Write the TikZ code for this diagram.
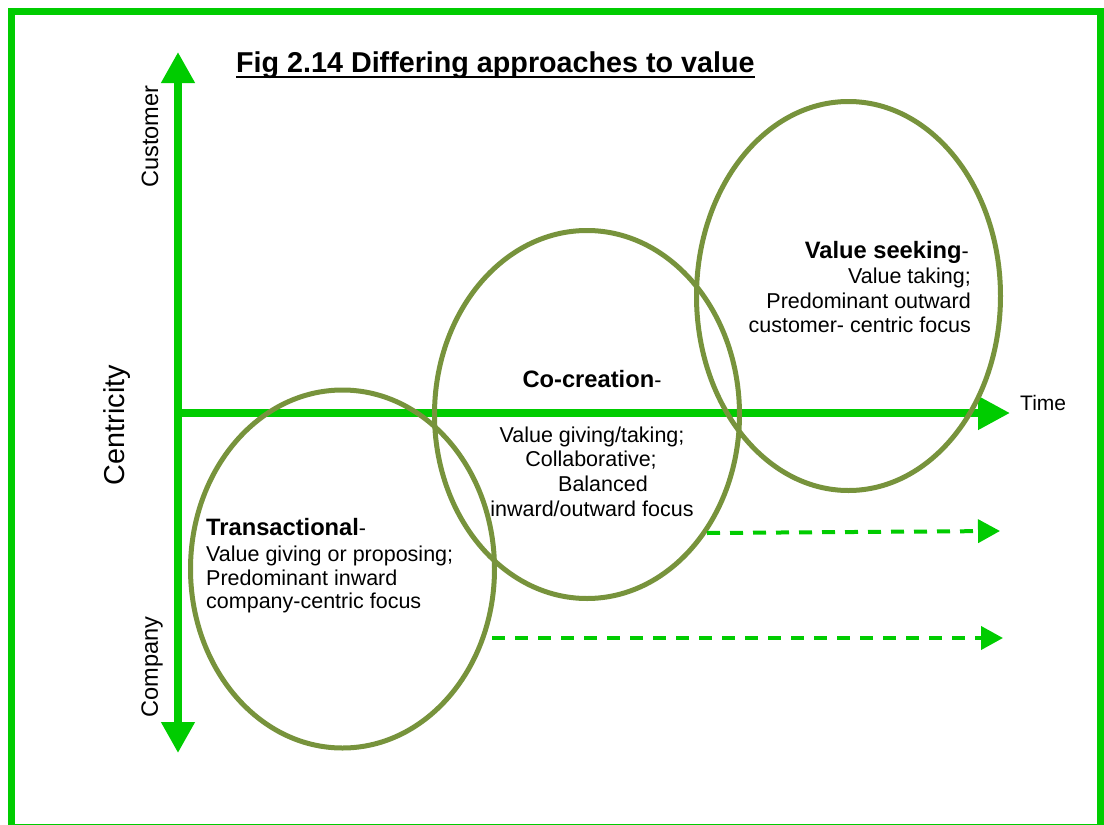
\documentclass[tikz,border=0pt]{standalone}
\usepackage{fontspec}
\setmainfont{Liberation Sans}
\usetikzlibrary{arrows.meta,shapes.geometric}
\definecolor{axgreen}{RGB}{0,204,0}
\definecolor{ringolive}{RGB}{119,147,60}
\begin{document}
\begin{tikzpicture}[x=1pt,y=-1pt,
  frame/.style={draw=axgreen,line width=7pt},
  axis/.style={draw=axgreen,line width=7.5pt},
  bigtip/.style={-{Triangle[length=31pt,width=32pt]}},
  trend/.style={draw=axgreen,line width=4pt,dash pattern=on 13pt off 10pt,
     -{Triangle[length=22pt,width=23pt]}},
  ring/.style={draw=ringolive,line width=5pt,ellipse,inner sep=0pt,outer sep=0pt},
  txt/.style={inner sep=0pt,font=\fontsize{21.5}{24}\selectfont},
  hd/.style={inner sep=0pt,font=\fontsize{23.7}{26}\selectfont\bfseries},
  ttl/.style={inner sep=0pt,font=\fontsize{28.7}{32}\selectfont\bfseries},
  axlabel/.style={inner sep=0pt,font=\fontsize{23.6}{26}\selectfont,rotate=90},
]
\useasboundingbox (0,0) rectangle (1104,825);
% outer frame
\draw[frame] (11.5,11) rectangle (1100.5,827.5);

% title
\node[ttl,anchor=base west] (title) at (236,72) {Fig 2.14 Differing approaches to value};
\draw[line width=2pt] ([yshift=-4.5pt]title.base west) -- ([yshift=-4.5pt]title.base east);

% axes
\coordinate (origin) at (178,413);
\coordinate (ytop) at (178,52);
\coordinate (ybot) at (178,753);
\coordinate (xend) at (1010,413);
\draw[axis,bigtip] (origin) -- (ytop);
\draw[axis,bigtip] (origin) -- (ybot);
\draw[axis,-{Triangle[length=32pt,width=32pt]}] ([xshift=-3.75pt]origin) -- (xend);

% axis labels
\node[axlabel] (customer) at (150,136.5) {Customer};
\node[axlabel] (company) at (152,667) {Company};
\node[inner sep=0pt,font=\fontsize{28.8}{32}\selectfont,rotate=90] (centricity) at (117,425) {Centricity};
\node[inner sep=0pt,font=\fontsize{21}{24}\selectfont,anchor=base west] (time) at (1020,410) {Time};

% ellipses
\node[ring,minimum width=304pt,minimum height=358pt] (trans) at (342.5,569) {};
\node[ring,minimum width=305pt,minimum height=368pt] (cocr) at (587,414.5) {};
\node[ring,minimum width=304pt,minimum height=389pt] (seek) at (848.5,296) {};

% dashed trend arrows
\coordinate (d1s) at (707,533);
\coordinate (d1e) at (1000,531);
\coordinate (d2s) at (492,638);
\coordinate (d2e) at (1003,638);
\draw[trend] (d1s) -- (d1e);
\draw[trend] (d2s) -- (d2e);

% Transactional text
\node[hd,anchor=base west] (t1) at (206,535) {Transactional\mdseries\fontsize{21.5}{24}\selectfont-};
\node[txt,anchor=base west] (t2) at (206,561) {Value giving or proposing;};
\node[txt,anchor=base west] (t3) at (206,585) {Predominant inward};
\node[txt,anchor=base west] (t4) at (206,608) {company-centric focus};

% Co-creation text
\node[hd,anchor=base] (c1) at (592,387) {Co-creation\mdseries\fontsize{21.5}{24}\selectfont-};
\node[txt,anchor=base] (c2) at (592,442) {Value giving/taking;};
\node[txt,anchor=base] (c3) at (591,466) {Collaborative;};
\node[txt,anchor=base] (c4) at (603,491) {Balanced};
\node[txt,anchor=base] (c5) at (592,516) {inward/outward focus};

% Value seeking text
\node[hd,anchor=base east] (s1) at (969,258) {Value seeking\mdseries\fontsize{21.5}{24}\selectfont-};
\node[txt,anchor=base east] (s2) at (971,283) {Value taking;};
\node[txt,anchor=base east] (s3) at (971,308) {Predominant outward};
\node[txt,anchor=base east] (s4) at (971,332) {customer- centric focus};
\end{tikzpicture}
\end{document}
